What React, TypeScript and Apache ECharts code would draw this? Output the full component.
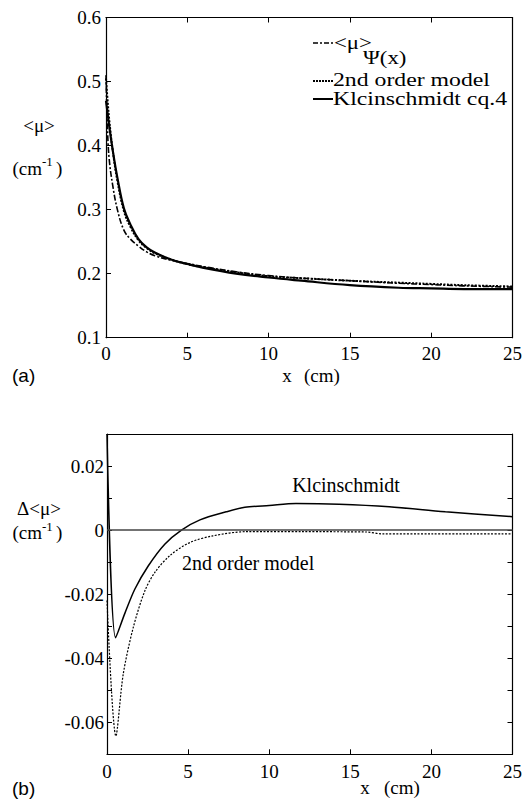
import React, { useEffect, useRef } from 'react';
import * as echarts from 'echarts';

// ---- Panel (a): mean attenuation vs depth ----
const xTop = [0, 0.1, 0.2, 0.4, 0.7, 1.1, 1.5, 2, 2.5, 3, 4, 5, 6, 8, 10, 12, 15, 18, 20, 22, 25];
const muPsi = [0.51, 0.42, 0.378, 0.34, 0.3, 0.268, 0.254, 0.243, 0.234, 0.228, 0.221, 0.216, 0.211, 0.203, 0.197, 0.193, 0.189, 0.185, 0.183, 0.181, 0.179];
const secondOrder = [0.505, 0.47, 0.44, 0.395, 0.345, 0.298, 0.273, 0.252, 0.24, 0.232, 0.222, 0.215, 0.21, 0.202, 0.196, 0.193, 0.189, 0.186, 0.184, 0.182, 0.18];
const kleinschmidt = [0.47, 0.45, 0.43, 0.395, 0.35, 0.302, 0.277, 0.254, 0.241, 0.233, 0.222, 0.215, 0.209, 0.2, 0.194, 0.189, 0.182, 0.178, 0.177, 0.176, 0.176];

// ---- Panel (b): differences ----
const xDiffKlein = [0, 0.53, 1.1, 1.72, 2.54, 3.56, 4.59, 5.73, 7.35, 8.5, 10, 11.65, 14.3, 17.4, 20.86, 25];
const diffKlein = [0.03, -0.0336, -0.026, -0.0184, -0.0112, -0.0044, 0, 0.0032, 0.0057, 0.0071, 0.0077, 0.0083, 0.0081, 0.0073, 0.0057, 0.0042];
const xDiffSecond = [0, 0.55, 1.0, 1.62, 2.33, 2.95, 3.87, 5.1, 6.53, 8.58, 12, 16, 17, 20, 25];
const diffSecond = [-0.022, -0.0643, -0.045, -0.0304, -0.019, -0.0132, -0.008, -0.0039, -0.0018, -0.0005, -0.0005, -0.0006, -0.0012, -0.0012, -0.0012];

const xRange = [0, 25, 5];
const yRangeTop = [0.1, 0.6, 0.1];
const yRangeBottom = [-0.07, 0.03, 0.01];

const SERIF = 'Liberation Serif';
const SANS = 'Liberation Sans';

const pairs = (xs: number[], ys: number[]) => xs.map((x, i) => [x, ys[i]]);

const axisLine = { show: true, onZero: false, lineStyle: { color: '#000', width: 1.2 } };
const tickIn = { show: true, inside: true, length: 5, lineStyle: { color: '#000', width: 1 } };
const noTick = { show: false };
const lab = (margin: number, extra: any = {}) => ({
  show: true, margin, color: '#000', fontFamily: SERIF, fontSize: 19, ...extra,
});

const txt = (x: number, y: number, text: string, opts: any = {}) => ({
  type: 'text', x, y, scaleX: opts.scaleX ?? 1, scaleY: 1,
  style: {
    text, fill: '#000', fontFamily: opts.font ?? SERIF, fontSize: opts.size ?? 19,
    textAlign: opts.align ?? 'left', textVerticalAlign: 'middle',
  },
});

export default function App() {
  const ref = useRef<HTMLDivElement>(null);
  useEffect(() => {
    document.body.style.margin = '0';
    const chart = echarts.init(ref.current!, null, { renderer: 'svg' });
    const option: any = {
      animation: false,
      backgroundColor: '#fff',
      textStyle: { fontFamily: SERIF },
      grid: [
        { left: 106, top: 17.5, right: 11, height: 320.2 },
        { left: 107, top: 434, right: 11, height: 320.3 },
      ],
      xAxis: [
        { gridIndex: 0, type: 'value', min: xRange[0], max: xRange[1], interval: xRange[2], position: 'bottom',
          axisLine, axisTick: tickIn, axisLabel: lab(6), splitLine: { show: false } },
        { gridIndex: 0, type: 'value', min: xRange[0], max: xRange[1], interval: xRange[2], position: 'top',
          axisLine, axisTick: tickIn, axisLabel: { show: false }, splitLine: { show: false } },
        { gridIndex: 1, type: 'value', min: xRange[0], max: xRange[1], interval: xRange[2], position: 'bottom',
          axisLine, axisTick: tickIn, axisLabel: lab(8), splitLine: { show: false } },
        { gridIndex: 1, type: 'value', min: xRange[0], max: xRange[1], interval: xRange[2], position: 'top',
          axisLine, axisTick: noTick, axisLabel: { show: false }, splitLine: { show: false } },
      ],
      yAxis: [
        { gridIndex: 0, type: 'value', min: yRangeTop[0], max: yRangeTop[1], interval: yRangeTop[2], position: 'left',
          axisLine, axisTick: tickIn, axisLabel: lab(5), splitLine: { show: false } },
        { gridIndex: 0, type: 'value', min: yRangeTop[0], max: yRangeTop[1], interval: yRangeTop[2], position: 'right',
          axisLine, axisTick: noTick, axisLabel: { show: false }, splitLine: { show: false } },
        { gridIndex: 1, type: 'value', min: yRangeBottom[0], max: yRangeBottom[1], interval: yRangeBottom[2], position: 'left',
          axisLine, axisTick: tickIn,
          axisLabel: lab(3, {
            formatter: (v: number) => {
              const k = Math.round(v * 100);
              if (k % 2 !== 0) return '';
              return k === 0 ? '0' : (k / 100).toFixed(2);
            },
          }),
          splitLine: { show: false } },
        { gridIndex: 1, type: 'value', min: yRangeBottom[0], max: yRangeBottom[1], interval: yRangeBottom[2], position: 'right',
          axisLine, axisTick: tickIn, axisLabel: { show: false }, splitLine: { show: false } },
      ],
      series: [
        { name: '<μ>Ψ(x)', type: 'line', xAxisIndex: 0, yAxisIndex: 0, data: pairs(xTop, muPsi),
          showSymbol: false, smooth: 0.4,
          lineStyle: { color: '#000', width: 1.6, type: [6, 2, 2, 2] } },
        { name: '2nd order model', type: 'line', xAxisIndex: 0, yAxisIndex: 0, data: pairs(xTop, secondOrder),
          showSymbol: false, smooth: 0.4,
          lineStyle: { color: '#000', width: 2, type: [2, 1.5] } },
        { name: 'Kleinschmidt eq.4', type: 'line', xAxisIndex: 0, yAxisIndex: 0, data: pairs(xTop, kleinschmidt),
          showSymbol: false, smooth: 0.4,
          lineStyle: { color: '#000', width: 2.2, type: 'solid' } },
        { name: 'Kleinschmidt diff', type: 'line', xAxisIndex: 2, yAxisIndex: 2, data: pairs(xDiffKlein, diffKlein),
          showSymbol: false, smooth: 0.3,
          lineStyle: { color: '#000', width: 1.5, type: 'solid' },
          markLine: { silent: true, symbol: 'none', label: { show: false },
            lineStyle: { color: '#444', width: 1.6, type: 'solid' }, data: [{ yAxis: 0 }] } },
        { name: '2nd order diff', type: 'line', xAxisIndex: 2, yAxisIndex: 2, data: pairs(xDiffSecond, diffSecond),
          showSymbol: false, smooth: 0.3,
          lineStyle: { color: '#000', width: 1.2, type: [2, 1.5] } },
      ],
      graphic: [
        // legend (a)
        { type: 'line', shape: { x1: 313, y1: 43, x2: 333, y2: 43 }, style: { stroke: '#000', lineWidth: 1.5, lineDash: [5, 2, 2, 2] } },
        txt(334, 43, '<μ>', { scaleX: 1.2 }),
        txt(363, 58, 'Ψ(x)', { scaleX: 1.2 }),
        { type: 'line', shape: { x1: 313, y1: 81, x2: 333, y2: 81 }, style: { stroke: '#000', lineWidth: 1.8, lineDash: [2, 1] } },
        txt(333, 80, '2nd order model', { scaleX: 1.25 }),
        { type: 'line', shape: { x1: 313, y1: 99, x2: 333, y2: 99 }, style: { stroke: '#000', lineWidth: 2 } },
        txt(333, 99, 'Klcinschmidt cq.4', { scaleX: 1.25 }),
        // axis names (a)
        txt(39, 125, '<μ>', { align: 'center' }),
        txt(42, 168, '(cm', { align: 'right' }),
        txt(42, 161, '-1', { size: 13 }),
        txt(56, 168, ')'),
        txt(287, 375, 'x', { align: 'center' }),
        txt(304, 375, '(cm)'),
        txt(12, 375, '(a)', { font: SANS }),
        // axis names (b)
        txt(39, 508, 'Δ<μ>', { align: 'center' }),
        txt(42, 532, '(cm', { align: 'right' }),
        txt(42, 526, '-1', { size: 13 }),
        txt(56, 532, ')'),
        txt(365, 787, 'x', { align: 'center' }),
        txt(384, 787, '(cm)'),
        txt(12, 788, '(b)', { font: SANS }),
        // annotations (b)
        txt(346, 485, 'Klcinschmidt', { align: 'center', size: 20 }),
        txt(182, 563, '2nd order model', { size: 20 }),
      ],
    };
    chart.setOption(option);
    return () => chart.dispose();
  }, []);
  return <div ref={ref} style={{ width: 525, height: 802 }} />;
}
